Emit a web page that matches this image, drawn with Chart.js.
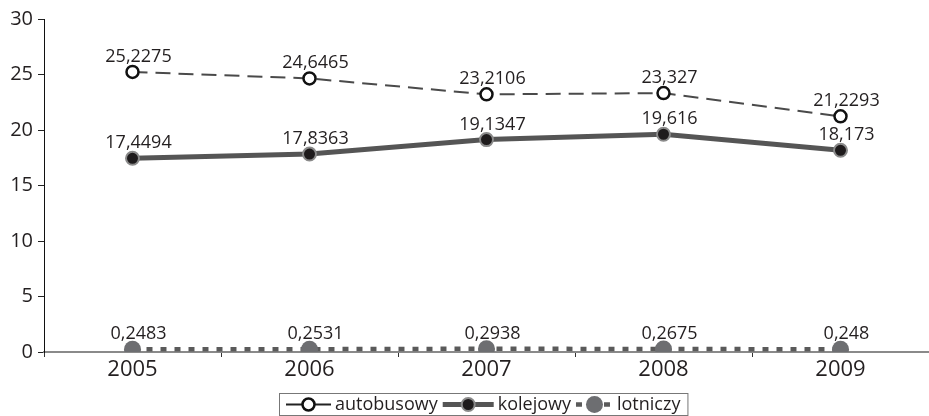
<!DOCTYPE html>
<html>
<head>
<meta charset="utf-8">
<script src="https://cdn.jsdelivr.net/npm/chart.js@4/dist/chart.umd.min.js"></script>
<style>
  html, body { margin: 0; padding: 0; background: #fff; }
  #wrap { width: 929px; height: 416px; position: relative; }
</style>
</head>
<body>
<div id="wrap"><canvas id="c" width="929" height="416"></canvas></div>
<script>
// Years on the horizontal axis
const years = ['2005', '2006', '2007', '2008', '2009'];
// Series values
const autobusowy = [25.2275, 24.6465, 23.2106, 23.327, 21.2293];
const kolejowy = [17.4494, 17.8363, 19.1347, 19.616, 18.173];
const lotniczy = [0.2483, 0.2531, 0.2938, 0.2675, 0.248];
// Value axis ticks
const yTicks = [0, 5, 10, 15, 20, 25, 30];

const FONT = "'Open Sans', 'DejaVu Sans', sans-serif";
const TEXT = '#231f20';

const fmt = v => String(v).replace('.', ',');

// Value labels above every point
const valueLabels = {
  id: 'valueLabels',
  afterDatasetsDraw(chart) {
    const ctx = chart.ctx;
    ctx.save();
    ctx.font = '18px ' + FONT;
    ctx.fillStyle = TEXT;
    ctx.textAlign = 'center';
    ctx.textBaseline = 'alphabetic';
    chart.data.datasets.forEach((ds, di) => {
      const meta = chart.getDatasetMeta(di);
      meta.data.forEach((pt, i) => {
        ctx.fillText(fmt(ds.data[i]), pt.x + 6, pt.y - 10);
      });
    });
    ctx.restore();
  }
};

// Boxed legend with line-and-marker symbols
const boxLegend = {
  id: 'boxLegend',
  afterDraw(chart) {
    const ctx = chart.ctx;
    const top = 393, h = 22;
    const symW = [45, 51, 37];
    const gap = 4, itemGap = 5, pad = 7;
    ctx.save();
    ctx.font = '18px ' + FONT;
    const items = chart.data.datasets.map((ds, i) => ({ ds, w: symW[i], tw: ctx.measureText(ds.label).width }));
    let total = pad * 2;
    items.forEach((it, i) => { total += it.w + gap + it.tw + (i < items.length - 1 ? itemGap : 0); });
    let x = Math.round(483 - total / 2);
    ctx.strokeStyle = '#777';
    ctx.lineWidth = 1;
    ctx.strokeRect(x + 0.5, top + 0.5, total, h);
    x += pad;
    const cy = top + h / 2 + 0.5;
    items.forEach((it, i) => {
      const ds = it.ds;
      ctx.save();
      ctx.strokeStyle = i === 0 ? '#222' : ds.borderColor;
      ctx.lineWidth = i === 0 ? 2 : ds.borderWidth;
      ctx.setLineDash(i === 0 ? [] : (ds.borderDash || []));
      ctx.beginPath();
      ctx.moveTo(x, cy);
      ctx.lineTo(x + it.w, cy);
      ctx.stroke();
      ctx.setLineDash([]);
      ctx.beginPath();
      ctx.arc(x + it.w / 2, cy, ds.pointRadius, 0, Math.PI * 2);
      ctx.fillStyle = ds.pointBackgroundColor;
      ctx.fill();
      if (ds.pointBorderWidth > 0) {
        ctx.strokeStyle = ds.pointBorderColor;
        ctx.lineWidth = ds.pointBorderWidth;
        ctx.stroke();
      }
      ctx.restore();
      x += it.w + gap;
      ctx.fillStyle = TEXT;
      ctx.textAlign = 'left';
      ctx.textBaseline = 'middle';
      ctx.fillText(ds.label, x, cy);
      x += it.tw + itemGap;
    });
    ctx.restore();
  }
};

new Chart(document.getElementById('c'), {
  type: 'line',
  data: {
    labels: years,
    datasets: [
      {
        label: 'autobusowy',
        data: autobusowy,
        borderColor: '#4a4a4a',
        borderWidth: 2,
        borderDash: [15, 8],
        pointRadius: 6,
        pointBackgroundColor: '#fff',
        pointBorderColor: '#111',
        pointBorderWidth: 2.5,
        tension: 0
      },
      {
        label: 'kolejowy',
        data: kolejowy,
        borderColor: '#555',
        borderWidth: 5,
        pointRadius: 6.5,
        pointBackgroundColor: '#1e1b1c',
        pointBorderColor: '#8a8a8a',
        pointBorderWidth: 2,
        tension: 0
      },
      {
        label: 'lotniczy',
        data: lotniczy,
        borderColor: '#5a5a5a',
        borderWidth: 4.5,
        borderDash: [6, 8],
        pointRadius: 8.5,
        pointBackgroundColor: '#6d6e71',
        pointBorderColor: '#6d6e71',
        pointBorderWidth: 0,
        tension: 0
      }
    ]
  },
  options: {
    responsive: false,
    animation: false,
    devicePixelRatio: 1,
    layout: { autoPadding: false, padding: { top: 19, right: 0, left: 0, bottom: 0 } },
    plugins: { legend: { display: false }, tooltip: { enabled: false } },
    scales: {
      x: {
        offset: true,
        grid: { display: true, offset: true, drawOnChartArea: false, drawTicks: true, tickLength: 5, color: '#333', lineWidth: 1 },
        border: { display: true, color: '#8a8a8a', width: 2 },
        ticks: { color: TEXT, font: { family: FONT, size: 22 }, padding: 0, maxRotation: 0 },
        afterFit(scale) {
          scale.height = 64;
          scale.paddingLeft = 0;
          scale.paddingRight = 0;
        }
      },
      y: {
        min: 0,
        max: 30,
        afterBuildTicks(scale) { scale.ticks = yTicks.map(v => ({ value: v })); },
        grid: { display: true, drawOnChartArea: false, drawTicks: true, tickLength: 6, color: '#222', lineWidth: 1 },
        border: { display: true, color: '#111', width: 1 },
        ticks: { color: TEXT, font: { family: FONT, size: 20 }, padding: 5 },
        afterFit(scale) { scale.width = 44; }
      }
    }
  },
  plugins: [valueLabels, boxLegend]
});
</script>
</body>
</html>
